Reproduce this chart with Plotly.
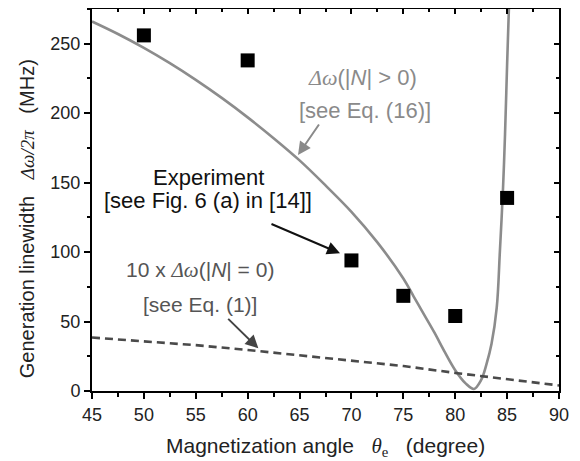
import plotly.graph_objects as go

# ---- data ----
exp_angle = [50, 60, 70, 75, 80, 85]
exp_width = [256, 238, 94, 68.5, 54, 139]

theory_angle = [45, 47.5, 50, 52.5, 55, 57.5, 60, 62.5, 65, 67.5, 70, 72.5,
                75, 76, 77, 78, 79, 80, 81, 81.8, 82.5, 83, 83.5, 84,
                84.3, 84.6, 84.8, 85, 85.2]
theory_width = [266, 257, 247, 236, 224, 211, 197, 182, 166, 148, 129, 107,
                81, 68, 55, 42, 28, 15, 5.5, 1.5, 8, 19, 34, 60,
                100, 145, 185, 235, 282]

zero_angle = [45, 50, 55, 60, 65, 70, 75, 80, 85, 90]
zero_width = [38.5, 36, 33, 29.5, 25.8, 22, 18, 13, 8.5, 4]

x_ticks = [45, 50, 55, 60, 65, 70, 75, 80, 85, 90]
y_ticks = [0, 50, 100, 150, 200, 250]

FONT = "Liberation Sans, Arial, sans-serif"
SERIF = "Liberation Serif, Times New Roman, serif"

fig = go.Figure()
fig.add_trace(go.Scatter(x=theory_angle, y=theory_width, mode="lines",
                         line=dict(color="#8c8c8c", width=2.6, shape="spline", smoothing=1.0),
                         showlegend=False, hoverinfo="skip"))
fig.add_trace(go.Scatter(x=zero_angle, y=zero_width, mode="lines",
                         line=dict(color="#4a4a4a", width=2.6, dash="8px,5px"),
                         showlegend=False, hoverinfo="skip"))
fig.add_trace(go.Scatter(x=exp_angle, y=exp_width, mode="markers",
                         marker=dict(symbol="square", size=14, color="black"),
                         showlegend=False, cliponaxis=False))
# invisible trace to attach mirror axes
fig.add_trace(go.Scatter(x=[45], y=[0], xaxis="x2", yaxis="y2", mode="markers",
                         marker=dict(opacity=0), showlegend=False, hoverinfo="skip"))

fig.update_layout(
    width=572, height=453,
    margin=dict(l=84, r=21, t=1, b=70),
    paper_bgcolor="white", plot_bgcolor="white",
    font=dict(family=FONT, size=18, color="#222"),
    xaxis=dict(range=[45, 90], tickvals=x_ticks, ticks="outside", ticklen=6,
               minor=dict(dtick=2.5, ticks="outside", ticklen=3.5, tickcolor="black", tickwidth=1.5),
               showgrid=False, zeroline=False, linecolor="black", linewidth=2,
               tickcolor="black", tickwidth=1.5, tickfont=dict(size=18, color="#222")),
    yaxis=dict(range=[0, 275], tickvals=y_ticks, ticks="outside", ticklen=6,
               minor=dict(dtick=25, ticks="outside", ticklen=3.5, tickcolor="black", tickwidth=1.5),
               showgrid=False, zeroline=False, linecolor="black", linewidth=2,
               tickcolor="black", tickwidth=1.5, tickfont=dict(size=18, color="#222")),
    xaxis2=dict(range=[45, 90], overlaying="x", side="top", tickvals=x_ticks, ticks="inside",
                ticklen=5, minor=dict(dtick=2.5, ticks="inside", ticklen=3, tickcolor="black", tickwidth=1.5),
                showticklabels=False, showgrid=False, zeroline=False, linecolor="black",
                linewidth=2, tickcolor="black", tickwidth=1.5),
    yaxis2=dict(range=[0, 275], overlaying="y", side="right", tickvals=y_ticks, ticks="inside",
                ticklen=5, minor=dict(dtick=25, ticks="inside", ticklen=3, tickcolor="black", tickwidth=1.5),
                showticklabels=False, showgrid=False, zeroline=False, linecolor="black",
                linewidth=2, tickcolor="black", tickwidth=1.5),
)

dw = f"<span style='font-family:{SERIF}'><i>Δω</i></span>"
sp = "&nbsp;&nbsp;&nbsp;"
ann = []
# axis titles
ann.append(dict(xref="paper", yref="paper", x=0.5, y=-0.147, xanchor="center", yanchor="middle",
                showarrow=False, font=dict(size=21, color="#222"),
                text=f"Magnetization angle{sp}<span style='font-family:{SERIF}'><i>θ</i><sub>e</sub></span>{sp}(degree)"))
ann.append(dict(xref="paper", yref="paper", x=-0.139, y=0.45, xanchor="center", yanchor="middle",
                textangle=-90, showarrow=False, font=dict(size=20, color="#222"),
                text=f"Generation linewidth{sp}<span style='font-family:{SERIF};font-size:19px'><i>Δω/2π</i></span>{sp}(MHz)"))
# text labels
AF = 22
ann.append(dict(x=71.1, y=226, showarrow=False, font=dict(size=AF, color="#8a8a8a"),
                text=f"{dw}(|<i>N</i>| > 0)"))
ann.append(dict(x=71.3, y=202, showarrow=False, font=dict(size=AF, color="#8a8a8a"),
                text="[see Eq. (16)]"))
ann.append(dict(x=56.2, y=154, showarrow=False, font=dict(size=AF, color="#111"),
                text="Experiment"))
ann.append(dict(x=56.2, y=137.5, showarrow=False, font=dict(size=AF, color="#111"),
                text="[see Fig. 6 (a) in [14]]"))
ann.append(dict(x=55.4, y=87, showarrow=False, font=dict(size=21, color="#555"),
                text=f"10 x {dw}(|<i>N</i>| = 0)"))
ann.append(dict(x=55.4, y=62, showarrow=False, font=dict(size=21, color="#555"),
                text="[see Eq. (1)]"))
# arrows
ann.append(dict(x=64.85, y=169.9, ax=66.97, ay=192.9, axref="x", ayref="y", text="",
                showarrow=True, arrowhead=2, arrowsize=1.3, arrowwidth=2, arrowcolor="#8a8a8a"))
ann.append(dict(x=68.9, y=99.1, ax=62.15, ay=120.7, axref="x", ayref="y", text="",
                showarrow=True, arrowhead=2, arrowsize=1.3, arrowwidth=2, arrowcolor="#111"))
ann.append(dict(x=61.03, y=30.7, ax=57.98, ay=53.0, axref="x", ayref="y", text="",
                showarrow=True, arrowhead=2, arrowsize=1.3, arrowwidth=2, arrowcolor="#444"))
fig.update_layout(annotations=ann)

fig.write_html("out.html")
